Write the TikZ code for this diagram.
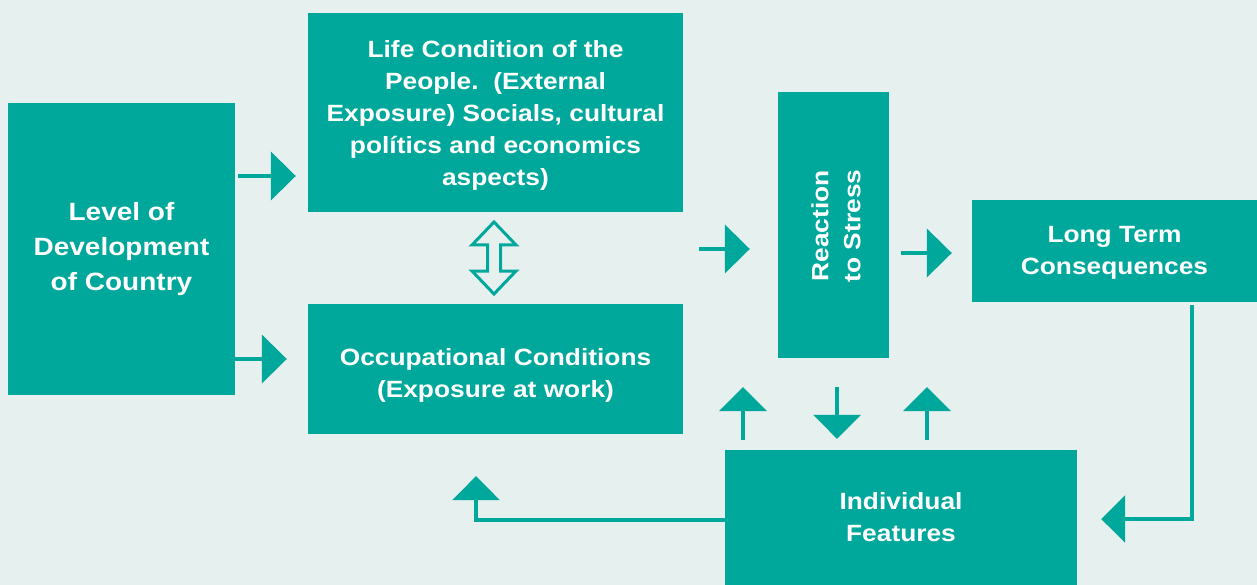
\documentclass[tikz,border=0pt]{standalone}
\usepackage{fontspec}
\usetikzlibrary{arrows.meta,calc}
\newfontfamily\labelfont[FakeStretch=1.12]{Liberation Sans}
\definecolor{boxteal}{RGB}{0,168,156}
\definecolor{paleaqua}{RGB}{230,240,239}
\begin{document}
\begin{tikzpicture}[x=1pt,y=-1pt,
  box/.style={fill=boxteal, text=white, align=center, inner sep=0pt,
    font=\labelfont\bfseries\fontsize{23.5}{32}\selectfont},
  words/.style={box, fill=none},
  bigtext/.style={font=\labelfont\bfseries\fontsize{25}{35}\selectfont},
  arr/.style={draw=boxteal, line width=4.5pt,
    -{Triangle[length=25pt,width=48pt]}},
  link/.style={draw=boxteal, line width=4pt,
    -{Triangle[length=24pt,width=47pt]}},
  dbl/.style={draw=boxteal, line width=3pt, fill=paleaqua, line join=miter}]

% canvas
\fill[paleaqua] (0,0) rectangle (1257,585);
\useasboundingbox (0,0) rectangle (1257,585);

% blocks
\node[box, bigtext, minimum width=227pt, minimum height=292pt] (lev) at (121.5,249)
  {Level of\\Development\\of Country};
\node[box, minimum width=375pt, minimum height=199pt] (life) at (495.5,112.5) {};
\node[words] (lifetext) at ($(life.center)+(0,3)$)
  {Life Condition of the\\People.\ \ (External\\Exposure) Socials, cultural\\pol\'itics and economics\\aspects)};
\node[box, minimum width=375pt, minimum height=130pt] (occ) at (495.5,369) {};
\node[words] (occtext) at ($(occ.center)+(0,6)$)
  {Occupational Conditions\\(Exposure at work)};
\node[box, minimum width=111pt, minimum height=266pt] (react) at (833.5,225) {};
\node[words, rotate=90] (reacttext) at ($(react.center)+(2.5,1)$)
  {Reaction\\to Stress};
\node[box, minimum width=285pt, minimum height=102pt] (long) at (1114.5,251) {};
\node[words] (longtext) at ($(long.center)+(0,2)$)
  {Long Term\\Consequences};
\node[box, minimum width=352pt, minimum height=135pt] (ind) at (901,517.5)
  {Individual\\Features};

% free ends of the feedback arrows
\coordinate (upA) at (743,387);
\coordinate (upB) at (927,387);

% straight arrows
\draw[arr, shorten <=3pt, shorten >=12pt] (lev.east |- 0,176) -- (life.west |- 0,176);
\draw[arr, shorten >=21pt] (lev.east |- 0,359) -- (occ.west |- 0,359);
\draw[arr, shorten <=16pt, shorten >=28pt] (life.east |- 0,249) -- (react.west |- 0,249);
\draw[arr, shorten <=12pt, shorten >=20pt] (react.east |- 0,253) -- (long.west |- 0,253);

% arrows between the stress reaction and the individual features
\draw[link, shorten <=10pt] (ind.north -| upA) -- (upA);
\draw[link, shorten <=29pt, shorten >=11pt] (react.south -| 837,0) -- (ind.north -| 837,0);
\draw[link, shorten <=10pt] (ind.north -| upB) -- (upB);

% elbow connectors
\draw[link, line join=miter] (ind.west |- 0,520) -| ($(occ.south -| 476,0)+(0,42)$);
\draw[link, line join=miter, shorten <=3pt, shorten >=24pt] (long.south -| 1192,0) |- (ind.east |- 0,519);

% hollow two-way arrow between the condition blocks
\coordinate (mid) at ($(life.south -| 494,0)!0.5!(occ.north -| 494,0)$);
\draw[dbl, shift={(mid)}] (0,-36) -- (22,-13) -- (6.5,-13) -- (6.5,13) -- (22,13)
  -- (0,36) -- (-22,13) -- (-6.5,13) -- (-6.5,-13) -- (-22,-13) -- cycle;
\end{tikzpicture}
\end{document}
